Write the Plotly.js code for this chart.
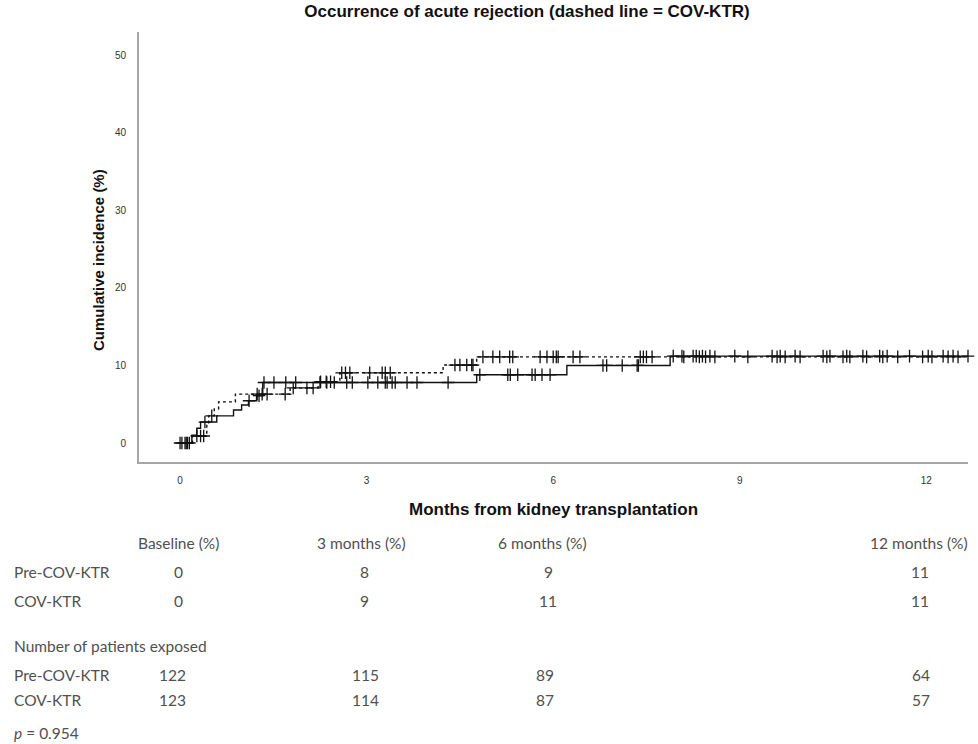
<!DOCTYPE html>
<html>
<head>
<meta charset="utf-8">
<script src="https://cdn.plot.ly/plotly-3.0.1.min.js"></script>
<style>
html,body{margin:0;padding:0;background:#fff;}
#chart{width:978px;height:744px;}
</style>
</head>
<body>
<div id="chart"></div>
<script>
// ---- Data ----
// Pre-COV-KTR (solid line): event times (months) and cumulative incidence (%)
const preTimes  = [0, 0.19, 0.27, 0.33, 0.59, 0.86, 0.99, 1.10, 1.23, 1.33, 4.77, 6.22, 7.88, 12.67];
const preLevels = [0, 1.0, 1.9, 2.7, 3.5, 4.25, 4.9, 5.45, 6.1, 7.8, 8.8, 10.0, 11.2, 11.2];
// COV-KTR (dashed line)
const covTimes  = [0, 0.20, 0.43, 0.46, 0.55, 0.62, 0.89, 1.77, 2.22, 2.57, 4.23, 4.77, 12.67];
const covLevels = [0, 0.9, 2.6, 3.5, 4.4, 5.3, 6.3, 7.1, 7.9, 9.05, 10.05, 11.1, 11.1];
// Censoring times (months)
const preCensor = [0.0, 0.08, 0.12, 0.40, 1.11, 1.27, 1.35, 1.51, 1.70, 1.86, 2.25, 2.36, 2.48, 2.68, 2.77,
  3.02, 3.18, 3.30, 3.33, 3.41, 3.46, 3.65, 3.81, 4.31, 4.82, 5.27, 5.31, 5.43, 5.66, 5.71, 5.82, 5.95,
  6.80, 6.86, 7.11, 7.35, 7.37, 7.93, 8.07, 8.25, 8.30, 8.40, 8.52, 8.92, 9.52, 9.65, 9.89, 10.34, 10.45,
  10.72, 10.98, 11.25, 11.37, 11.73, 12.03, 12.27, 12.43, 12.67];
const covCensor = [0.03, 0.10, 0.15, 0.27, 0.33, 0.38, 0.51, 1.24, 1.32, 1.40, 1.69, 1.82, 2.04, 2.14, 2.26,
  2.35, 2.42, 2.60, 2.66, 2.73, 3.05, 3.25, 3.30, 3.38, 4.42, 4.50, 4.61, 4.69, 4.71, 4.87, 5.03, 5.14,
  5.30, 5.35, 5.79, 5.90, 6.00, 6.05, 6.08, 6.32, 6.43, 7.40, 7.45, 7.50, 7.59, 8.10, 8.35, 8.45, 8.60,
  9.13, 9.60, 9.73, 9.97, 10.40, 10.66, 10.77, 11.04, 11.30, 11.54, 11.94, 12.09, 12.35, 12.51];
// Axis ticks
const xTicks = [0, 3, 6, 9, 12];
const yTicks = [0, 10, 20, 30, 40, 50];
// Table
const tableHeaders = ["Baseline (%)", "3 months (%)", "6 months (%)", "12 months (%)"];
const groupNames = ["Pre-COV-KTR", "COV-KTR"];
const preCI = ["0", "8", "9", "11"];
const covCI = ["0", "9", "11", "11"];
const preN = ["122", "115", "89", "64"];
const covN = ["123", "114", "87", "57"];
const pText = "<i>p</i> = 0.954";

// ---- helpers ----
function levelAt(times, levels, t) {
  let v = levels[0];
  for (let i = 0; i < times.length; i++) { if (times[i] <= t) v = levels[i]; }
  return v;
}
// plot area in pixels
const L = 139, R = 968, T = 32, B = 462, W = 978, H = 744;
const px = x => (x - L) / (R - L);
const py = y => (B - y) / (B - T);

const traces = [
  {x: preTimes, y: preLevels, mode: 'lines', line: {shape: 'hv', color: '#111', width: 1.4}, hoverinfo: 'skip'},
  {x: covTimes, y: covLevels, mode: 'lines', line: {shape: 'hv', color: '#111', width: 1.4, dash: '3px,3px'}, hoverinfo: 'skip'},
  {x: preCensor, y: preCensor.map(t => levelAt(preTimes, preLevels, t)), mode: 'markers',
   marker: {symbol: 'cross-thin', size: 9, line: {width: 1.3, color: '#111'}}, cliponaxis: false},
  {x: covCensor, y: covCensor.map(t => levelAt(covTimes, covLevels, t)), mode: 'markers',
   marker: {symbol: 'cross-thin', size: 9, line: {width: 1.3, color: '#111'}}, cliponaxis: false}
];

const tFont = {family: 'Lato, "Open Sans", sans-serif', size: 15.5, color: '#505050'};
const ann = [];
function addText(text, x, y, anchor, font) {
  ann.push({text: text, xref: 'paper', yref: 'paper', x: px(x), y: py(y), xanchor: anchor, yanchor: 'middle',
            showarrow: false, font: font || tFont});
}
const hFont = '"Liberation Sans", Arial, sans-serif';
// axis titles
addText('<b>Months from kidney transplantation</b>', 553, 509, 'center',
        {family: hFont, size: 17, color: '#111'});
ann.push({text: '<b>Cumulative incidence (%)</b>', xref: 'paper', yref: 'paper', x: px(98), y: py(260),
          xanchor: 'center', yanchor: 'middle', textangle: -90, showarrow: false,
          font: {family: hFont, size: 15, color: '#111'}});
// table
const colHead = [178, 361, 542, 919];
const colCI = [178, 364, 548, 920];
const colN = [172, 365, 545, 921];
const leftX = 12;
tableHeaders.forEach((h, i) => addText(h, colHead[i], 543, 'center'));
addText(groupNames[0], leftX, 572, 'left');
addText(groupNames[1], leftX, 601, 'left');
preCI.forEach((v, i) => addText(v, colCI[i], 572, 'center'));
covCI.forEach((v, i) => addText(v, colCI[i], 601, 'center'));
addText('Number of patients exposed', leftX, 646, 'left');
addText(groupNames[0], leftX, 675, 'left');
addText(groupNames[1], leftX, 700, 'left');
preN.forEach((v, i) => addText(v, colN[i], 675, 'center'));
covN.forEach((v, i) => addText(v, colN[i], 700, 'center'));
addText(pText, leftX, 733, 'left');

const layout = {
  width: W, height: H,
  margin: {l: L, r: W - R, t: T, b: H - B},
  paper_bgcolor: '#fff', plot_bgcolor: '#fff',
  showlegend: false,
  title: {text: '<b>Occurrence of acute rejection (dashed line = COV-KTR)</b>',
          xref: 'container', x: 527 / W, xanchor: 'center',
          yref: 'container', y: 1 - 11 / H, yanchor: 'middle',
          font: {family: hFont, size: 17, color: '#111'}},
  xaxis: {range: [-0.66, 12.67], tickvals: xTicks, ticktext: xTicks.map(String), showgrid: false, zeroline: false,
          showline: true, linecolor: '#a6a6a6', linewidth: 2, ticks: '', ticklabelstandoff: 8,
          tickfont: {family: hFont, size: 10, color: '#333'}},
  yaxis: {range: [-2.45, 53], tickvals: yTicks, ticktext: yTicks.map(String), showgrid: false, zeroline: false,
          showline: true, linecolor: '#a6a6a6', linewidth: 2, ticks: '', ticklabelstandoff: 9,
          tickfont: {family: hFont, size: 10, color: '#333'}},
  annotations: ann
};

Plotly.newPlot('chart', traces, layout, {staticPlot: true, displayModeBar: false});
</script>
</body>
</html>
